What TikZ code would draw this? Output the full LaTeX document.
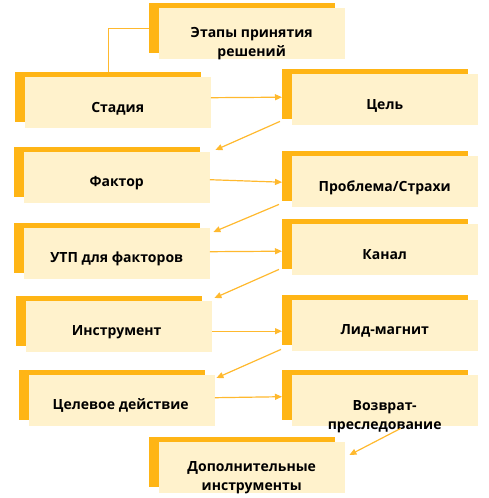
\documentclass[tikz,border=0pt]{standalone}
\usepackage{fontspec}
\setmainfont{Open Sans}
\usetikzlibrary{arrows.meta}
\definecolor{stageorange}{HTML}{FFB515}
\definecolor{stagelight}{HTML}{FFF2CC}
\definecolor{stagearrow}{HTML}{FFB92E}

\begin{document}
\begin{tikzpicture}[x=1pt, y=-1pt,
    back/.style={fill=stageorange, minimum width=186pt, minimum height=50pt, inner sep=0pt, anchor=north west},
    front/.style={fill=stagelight, minimum width=186pt, minimum height=51pt, inner sep=0pt, anchor=north west},
    lbl/.style={font=\fontsize{14}{19.5}\selectfont\bfseries, align=center, inner sep=0pt},
    link/.style={stagearrow, line width=1.2pt},
    flow/.style={stagearrow, line width=1.2pt, -{Triangle[length=7pt, width=6pt]}}]
    \useasboundingbox (0,0) rectangle (488,498);

    % back rectangles
    \node[back] (etapy-b) at (149,3) {};
    \node[back] (stadia-b) at (15,72) {};
    \node[back] (cel-b) at (282,69) {};
    \node[back] (faktor-b) at (14,147) {};
    \node[back] (problema-b) at (282,151) {};
    \node[back] (utp-b) at (14,223) {};
    \node[back] (kanal-b) at (282,219) {};
    \node[back] (instr-b) at (16,296) {};
    \node[back] (lid-b) at (282,295) {};
    \node[back] (celevoe-b) at (19,370) {};
    \node[back] (vozvrat-b) at (282,370) {};
    \node[back] (dop-b) at (149,437) {};

    % front rectangles
    \node[front] (etapy) at (158.5,8) {};
    \node[front] (stadia) at (24.5,77) {};
    \node[front] (cel) at (291.5,74) {};
    \node[front] (faktor) at (23.5,152) {};
    \node[front] (problema) at (291.5,156) {};
    \node[front] (utp) at (23.5,228) {};
    \node[front] (kanal) at (291.5,224) {};
    \node[front] (instr) at (25.5,301) {};
    \node[front] (lid) at (291.5,300) {};
    \node[front] (celevoe) at (28.5,375) {};
    \node[front] (vozvrat) at (291.5,375) {};
    \node[front] (dop) at (158.5,442) {};

    % texts
    \node[lbl] (etapy-t) at ([shift={(0,10)}]etapy.center) {Этапы принятия\\решений};
    \node[lbl] (stadia-t) at ([shift={(0,6)}]stadia.center) {Стадия};
    \node[lbl] (cel-t) at ([shift={(0,6)}]cel.center) {Цель};
    \node[lbl] (faktor-t) at ([shift={(0,5)}]faktor.center) {Фактор};
    \node[lbl] (problema-t) at ([shift={(0,6)}]problema.center) {Проблема/Страхи};
    \node[lbl] (utp-t) at ([shift={(0,5)}]utp.center) {УТП для факторов};
    \node[lbl] (kanal-t) at ([shift={(0,5)}]kanal.center) {Канал};
    \node[lbl] (instr-t) at ([shift={(-2,5)}]instr.center) {Инструмент};
    \node[lbl] (lid-t) at ([shift={(0,5)}]lid.center) {Лид-магнит};
    \node[lbl] (celevoe-t) at ([shift={(-1,5)}]celevoe.center) {Целевое действие};
    \node[lbl] (vozvrat-t) at ([shift={(0,16)}]vozvrat.center) {Возврат-\\преследование};
    \node[lbl] (dop-t) at ([shift={(0,10)}]dop.center) {Дополнительные\\инструменты};

    % connectors
    \draw[link] (etapy-b.west) -| (stadia-b.north);
    \draw[flow] ([shift={(0,-5)}]stadia.east) -- ([shift={(0,3)}]cel-b.west);
    \draw[flow] ([shift={(-2,2)}]cel-b.south west) -- ([shift={(5.5,-2)}]faktor.north east);
    \draw[flow] ([shift={(0,2)}]faktor.east) -- ([shift={(0,6)}]problema-b.west);
    \draw[flow] ([shift={(-3,3)}]problema-b.south west) -- ([shift={(3.5,4)}]utp.north east);
    \draw[flow] ([shift={(0,-2)}]utp.east) -- ([shift={(0,7)}]kanal-b.west);
    \draw[flow] ([shift={(-3,0)}]kanal-b.south west) -- ([shift={(2.5,-3)}]instr.north east);
    \draw[flow] ([shift={(0,4.5)}]instr.east) -- ([shift={(0,11)}]lid-b.west);
    \draw[flow] ([shift={(-1,4)}]lid-b.south west) -- ([shift={(1.5,3)}]celevoe.north east);
    \draw[flow] ([shift={(0,-3)}]celevoe.east) -- ([shift={(0,1.5)}]vozvrat-b.west);
    \draw[flow] ([shift={(16,2)}]vozvrat.south) -- ([shift={(4.5,13)}]dop.north east);
\end{tikzpicture}
\end{document}
